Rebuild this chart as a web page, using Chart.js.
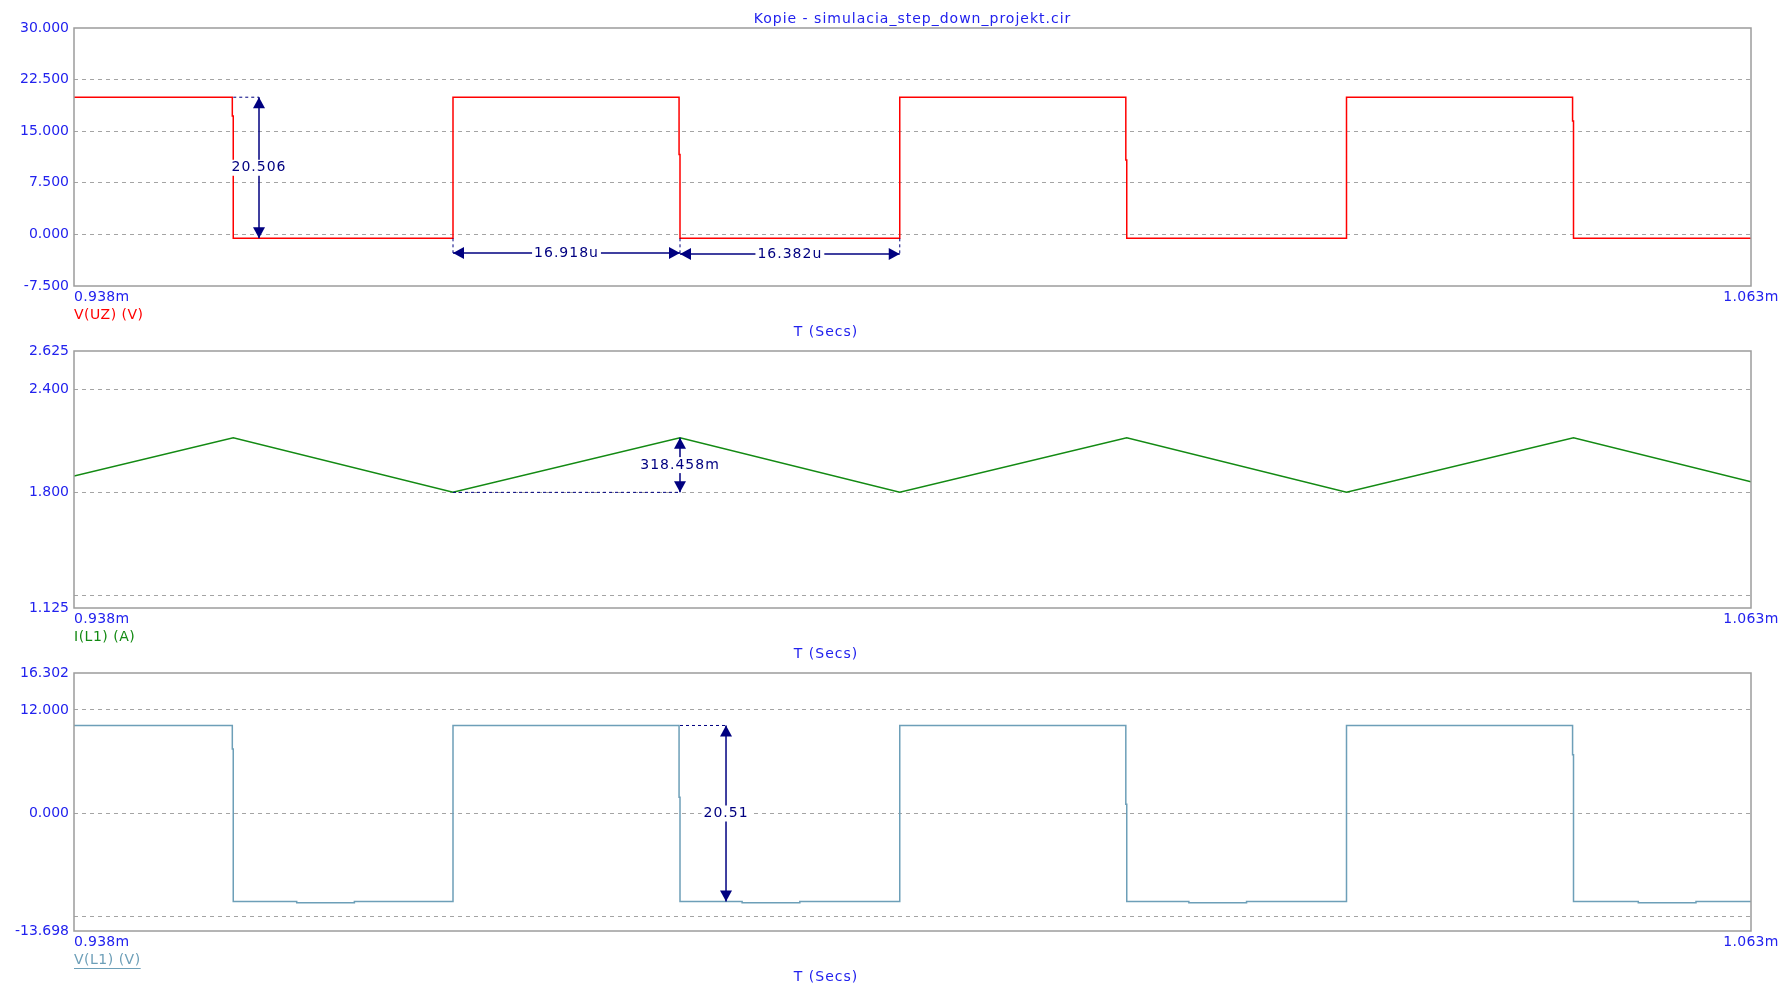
<!DOCTYPE html>
<html lang="en">
<head>
  <meta charset="UTF-8">
  <script src="https://cdn.jsdelivr.net/npm/chart.js"></script>
  <style>
    body { margin: 0; background: #fff; width: 1782px; height: 988px; overflow: hidden; }
    .panel { position: absolute; left: 0; }
  </style>
</head>
<body>
  <canvas class="panel" id="uz" width="1782" height="340" style="top:0"></canvas>
  <canvas class="panel" id="il" width="1782" height="340" style="top:323px"></canvas>
  <canvas class="panel" id="vl" width="1782" height="340" style="top:645px"></canvas>

  <script>
    // time in microseconds
    const tStart = 938, tEnd = 1063;
    const xLabels = ['0.938m', '1.063m'];

    // V(UZ)
    const uzTime = [938, 949.80, 949.80, 949.87, 949.87, 966.25, 966.25, 983.10, 983.10, 983.17, 983.17, 999.55,
      999.55, 1016.40, 1016.40, 1016.47, 1016.47, 1032.85, 1032.85, 1049.70, 1049.70, 1049.77, 1049.77, 1063];
    const uzValue = [19.94, 19.94, 17.2, 17.2, -0.57, -0.57, 19.94, 19.94, 11.6, 11.6, -0.57, -0.57,
      19.94, 19.94, 10.8, 10.8, -0.57, -0.57, 19.94, 19.94, 16.5, 16.5, -0.57, -0.57];
    const uzGrid = [-7.5, 0, 7.5, 15, 22.5, 30];
    const uzLabels = [-7.5, 0, 7.5, 15, 22.5, 30];

    // I(L1)
    const ilTime = [938, 949.87, 966.25, 983.17, 999.55, 1016.47, 1032.85, 1049.77, 1063];
    const ilValue = [1.895, 2.118, 1.800, 2.118, 1.800, 2.118, 1.800, 2.118, 1.862];
    const ilGrid = [1.125, 1.2, 1.8, 2.4, 2.625];
    const ilLabels = [1.125, 1.8, 2.4, 2.625];

    // V(L1)
    const vlTime = [938, 949.80, 949.80, 949.87, 949.87, 954.6, 954.6, 958.9, 958.9, 966.25, 966.25,
      983.10, 983.10, 983.17, 983.17, 987.8, 987.8, 992.1, 992.1, 999.55, 999.55,
      1016.40, 1016.40, 1016.47, 1016.47, 1021.1, 1021.1, 1025.4, 1025.4, 1032.85, 1032.85,
      1049.70, 1049.70, 1049.77, 1049.77, 1054.6, 1054.6, 1058.9, 1058.9, 1063];
    const vlValue = [10.2, 10.2, 7.46, 7.46, -10.27, -10.27, -10.42, -10.42, -10.27, -10.27, 10.2,
      10.2, 1.86, 1.86, -10.27, -10.27, -10.42, -10.42, -10.27, -10.27, 10.2,
      10.2, 1.05, 1.05, -10.27, -10.27, -10.42, -10.42, -10.27, -10.27, 10.2,
      10.2, 6.8, 6.8, -10.27, -10.27, -10.42, -10.42, -10.27, -10.27];
    const vlGrid = [-13.698, -12, 0, 12, 16.302];
    const vlLabels = [-13.698, 0, 12, 16.302];

    const navy = '#000080';
    const blue = '#2222ee';
    const font = '14px "DejaVu Sans", sans-serif';

    function head(ctx, x, y, dir) {
      const L = 11, W = 6;
      ctx.beginPath();
      ctx.moveTo(x, y);
      if (dir === 'up') { ctx.lineTo(x - W, y + L); ctx.lineTo(x + W, y + L); }
      if (dir === 'down') { ctx.lineTo(x - W, y - L); ctx.lineTo(x + W, y - L); }
      if (dir === 'left') { ctx.lineTo(x + L, y - W); ctx.lineTo(x + L, y + W); }
      if (dir === 'right') { ctx.lineTo(x - L, y - W); ctx.lineTo(x - L, y + W); }
      ctx.closePath();
      ctx.fill();
    }

    // centred text, letter spaced
    function spaced(ctx, text, x, y, sp) {
      ctx.letterSpacing = sp + 'px';
      const w = ctx.measureText(text).width;
      ctx.textAlign = 'left';
      ctx.fillText(text, x - w / 2, y);
      return w;
    }

    function tag(ctx, text, x, y) {
      ctx.letterSpacing = '1px';
      const w = ctx.measureText(text).width;
      ctx.fillStyle = '#fff';
      ctx.fillRect(x - w / 2 - 2, y - 8, w + 4, 16);
      ctx.fillStyle = navy;
      spaced(ctx, text, x, y, 1);
    }

    const scopeDecor = {
      id: 'scopeDecor',
      afterDatasetsDraw(chart, args, opts) {
        const { ctx, chartArea: a, scales: { x, y } } = chart;
        ctx.save();
        ctx.strokeStyle = '#9c9c9c';
        ctx.lineWidth = 1.5;
        ctx.strokeRect(a.left, a.top, a.right - a.left, a.bottom - a.top);

        ctx.font = font;
        ctx.textBaseline = 'middle';
        ctx.fillStyle = blue;
        ctx.textAlign = 'left';
        ctx.letterSpacing = '0.3px';
        ctx.fillText(xLabels[0], x.getPixelForValue(tStart), a.bottom + 11);
        spaced(ctx, xLabels[1], x.getPixelForValue(tEnd), a.bottom + 11, 0.3);
        spaced(ctx, 'T (Secs)', 826, a.bottom + 46, 1);
        if (opts.title) spaced(ctx, opts.title, (a.left + a.right) / 2, 19, 1);

        ctx.textAlign = 'left';
        ctx.letterSpacing = '0.5px';
        ctx.fillStyle = opts.color;
        ctx.fillText(opts.trace, a.left, a.bottom + 29);
        if (opts.underline) {
          const w = ctx.measureText(opts.trace).width;
          ctx.fillRect(a.left, a.bottom + 37, w, 1);
        }

        // dashed guides
        ctx.strokeStyle = navy;
        ctx.lineWidth = 1;
        ctx.setLineDash([3, 3]);
        (opts.guides || []).forEach(g => {
          ctx.beginPath();
          if (g.y !== undefined) {
            ctx.moveTo(x.getPixelForValue(g.x1), y.getPixelForValue(g.y));
            ctx.lineTo(x.getPixelForValue(g.x2), y.getPixelForValue(g.y));
          } else {
            ctx.moveTo(x.getPixelForValue(g.x), y.getPixelForValue(g.y1));
            ctx.lineTo(x.getPixelForValue(g.x), y.getPixelForValue(g.y2));
          }
          ctx.stroke();
        });
        ctx.setLineDash([]);

        // measurement arrows
        ctx.lineWidth = 1.5;
        (opts.measures || []).forEach(m => {
          ctx.strokeStyle = navy;
          ctx.fillStyle = navy;
          if (m.dir === 'v') {
            const px = x.getPixelForValue(m.x);
            const p1 = y.getPixelForValue(m.y1), p2 = y.getPixelForValue(m.y2);
            ctx.beginPath(); ctx.moveTo(px, p1); ctx.lineTo(px, p2); ctx.stroke();
            head(ctx, px, p1, 'up');
            head(ctx, px, p2, 'down');
            tag(ctx, m.text, px, (p1 + p2) / 2);
          } else {
            const py = y.getPixelForValue(m.y);
            const p1 = x.getPixelForValue(m.x1), p2 = x.getPixelForValue(m.x2);
            ctx.beginPath(); ctx.moveTo(p1, py); ctx.lineTo(p2, py); ctx.stroke();
            head(ctx, p1, py, 'left');
            head(ctx, p2, py, 'right');
            tag(ctx, m.text, (p1 + p2) / 2, py);
          }
        });
        ctx.restore();
      }
    };

    function makePanel(id, time, values, color, min, max, grid, labels, decor, bottomPad) {
      new Chart(document.getElementById(id), {
        type: 'line',
        data: {
          datasets: [{
            data: time.map((t, i) => ({ x: t, y: values[i] })),
            borderColor: color,
            borderWidth: 1.5,
            pointRadius: 0,
            tension: 0,
            fill: false
          }]
        },
        options: {
          responsive: false,
          animation: false,
          layout: { padding: { left: 0, right: 31, top: 28, bottom: bottomPad } },
          plugins: {
            legend: { display: false },
            tooltip: { enabled: false },
            scopeDecor: decor
          },
          scales: {
            x: { type: 'linear', min: tStart, max: tEnd, display: false },
            y: {
              type: 'linear',
              min: min,
              max: max,
              afterBuildTicks: s => { s.ticks = grid.map(v => ({ value: v })); },
              afterFit: s => { s.width = 74; },
              ticks: {
                autoSkip: false,
                padding: 5,
                color: blue,
                font: { family: '"DejaVu Sans", sans-serif', size: 14 },
                callback: v => labels.includes(v) ? v.toFixed(3) : ''
              },
              grid: {
                drawTicks: false,
                lineWidth: 1,
                color: c => (c.tick && (c.tick.value === min || c.tick.value === max)) ? 'rgba(0,0,0,0)' : '#a4a4a4'
              },
              border: { display: false, dash: [4, 4] }
            }
          }
        },
        plugins: [scopeDecor]
      });
    }

    makePanel('uz', uzTime, uzValue, '#ff0000', -7.5, 30, uzGrid, uzLabels, {
      title: 'Kopie - simulacia_step_down_projekt.cir',
      trace: 'V(UZ) (V)', color: '#ff0000',
      guides: [
        { x1: 949.87, x2: 951.79, y: 19.94 },
        { x: 966.25, y1: -0.57, y2: -2.70 },
        { x: 983.17, y1: -0.57, y2: -2.85 },
        { x: 999.55, y1: -0.57, y2: -2.85 }
      ],
      measures: [
        { dir: 'v', x: 951.79, y1: 19.94, y2: -0.57, text: '20.506' },
        { dir: 'h', y: -2.70, x1: 966.25, x2: 983.17, text: '16.918u' },
        { dir: 'h', y: -2.85, x1: 983.17, x2: 999.55, text: '16.382u' }
      ]
    }, 54);

    makePanel('il', ilTime, ilValue, '#138a13', 1.125, 2.625, ilGrid, ilLabels, {
      trace: 'I(L1) (A)', color: '#138a13',
      guides: [{ x1: 966.25, x2: 983.17, y: 1.800 }],
      measures: [{ dir: 'v', x: 983.17, y1: 2.118, y2: 1.800, text: '318.458m' }]
    }, 55);

    makePanel('vl', vlTime, vlValue, '#6d9fb8', -13.698, 16.302, vlGrid, vlLabels, {
      trace: 'V(L1) (V)', color: '#6d9fb8', underline: true,
      guides: [{ x1: 983.17, x2: 986.60, y: 10.2 }],
      measures: [{ dir: 'v', x: 986.60, y1: 10.2, y2: -10.27, text: '20.51' }]
    }, 54);
  </script>
</body>
</html>
